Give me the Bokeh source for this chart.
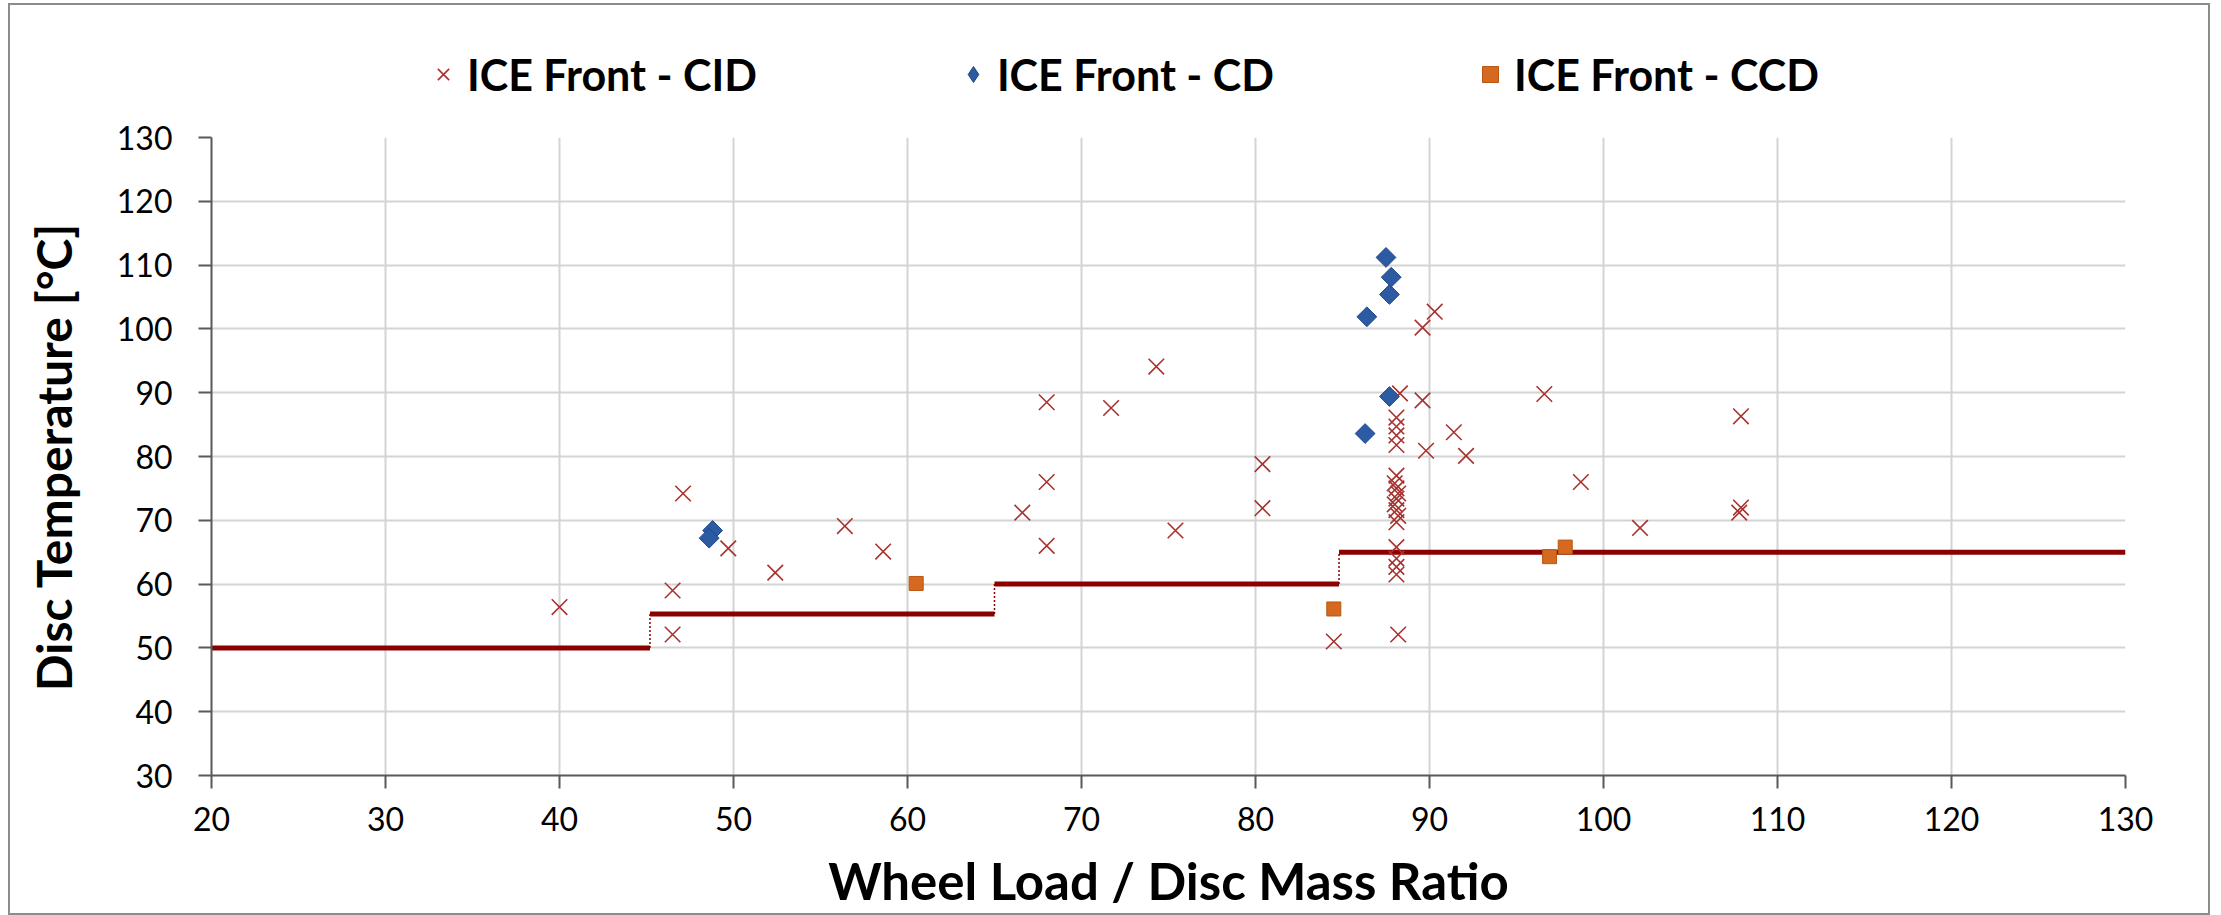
from bokeh.plotting import figure
from bokeh.models import Legend, LegendItem, FixedTicker, Range1d
from bokeh.layouts import column
from bokeh.embed import file_html
from bokeh.resources import INLINE
import numpy as np

# ---- data ----
cid_x = [40.0, 46.5, 46.5, 47.1, 49.7, 52.4, 56.4, 58.6, 66.6, 68.0, 68.0, 68.0,
         71.7, 74.3, 75.4, 80.4, 80.4, 84.5,
         88.3, 88.1, 88.1, 88.1, 88.1, 88.1, 88.0, 88.1, 88.2, 88.1, 88.0, 88.1,
         88.2, 88.1, 88.1, 88.1, 88.1, 88.1, 88.2,
         89.6, 90.3, 89.6, 91.4, 89.8, 92.1, 96.6, 98.7, 102.1, 107.9, 107.9, 107.8]
cid_y = [56.4, 52.1, 59.0, 74.2, 65.6, 61.8, 69.1, 65.1, 71.2, 88.5, 76.0, 66.0,
         87.6, 94.1, 68.4, 78.8, 71.9, 51.0,
         89.9, 86.1, 84.7, 83.3, 81.8, 77.0, 75.8, 75.0, 74.2, 73.4, 72.5, 71.6,
         70.7, 69.7, 65.8, 64.0, 62.7, 61.5, 52.1,
         100.2, 102.7, 88.8, 83.8, 80.9, 80.1, 89.8, 76.0, 68.8, 86.3, 72.0, 71.2]

cd_x = [48.8, 48.6, 86.3, 86.4, 87.7, 87.7, 87.8, 87.5]
cd_y = [68.4, 67.2, 83.6, 101.9, 89.4, 105.4, 108.1, 111.2]

ccd_x = [60.5, 84.5, 96.9, 97.8]
ccd_y = [60.1, 56.1, 64.3, 65.8]

step_x = [20.0, 45.2, 65.0, 84.8, 130.0]
step_y = [50.0, 55.3, 60.0, 65.0]

x_ticks = [20, 30, 40, 50, 60, 70, 80, 90, 100, 110, 120, 130]
y_ticks = [30, 40, 50, 60, 70, 80, 90, 100, 110, 120, 130]

labels = ["ICE Front - CID", "ICE Front - CD", "ICE Front - CCD"]

FONT = "Lato"
CID_STYLE = dict(marker="x", size=22, line_color="#a8322f", line_width=1.6)
CD_STYLE = dict(marker="square", size=14, angle=np.pi / 4,
                fill_color="#2d5ba3", line_color="#22478a", line_width=1)
CCD_STYLE = dict(marker="square", size=14,
                 fill_color="#d4691f", line_color="#b85712", line_width=1)

W = 2198

# ---- main plot ----
p = figure(width=W, height=808, output_backend="svg", toolbar_location=None,
           x_range=Range1d(20, 130), y_range=Range1d(30, 130),
           min_border_left=201, min_border_right=83, min_border_top=32,
           min_border_bottom=138)
p.outline_line_color = None
p.background_fill_color = "white"
p.border_fill_color = "white"

for g in (p.xgrid, p.ygrid):
    g.grid_line_color = "#d4d4d4"
    g.grid_line_width = 2
p.xgrid.ticker = FixedTicker(ticks=x_ticks)
p.ygrid.ticker = FixedTicker(ticks=y_ticks)

p.xaxis.ticker = FixedTicker(ticks=x_ticks)
p.yaxis.ticker = FixedTicker(ticks=y_ticks)
for ax in (p.xaxis[0], p.yaxis[0]):
    ax.axis_line_color = "#595959"
    ax.axis_line_width = 2
    ax.major_tick_line_color = "#595959"
    ax.major_tick_line_width = 2
    ax.major_tick_out = 13
    ax.major_tick_in = 0
    ax.minor_tick_line_color = None
    ax.major_label_text_font = FONT
    ax.major_label_text_font_size = "32px"
    ax.major_label_text_color = "black"
    ax.axis_label_text_font = FONT
    ax.axis_label_text_font_style = "bold"
    ax.axis_label_text_color = "black"
p.xaxis.axis_label = "Wheel Load / Disc Mass Ratio"
p.yaxis.axis_label = "Disc Temperature [°C]"
p.xaxis.axis_label_text_font_size = "51px"
p.yaxis.axis_label_text_font_size = "48px"
p.yaxis.major_label_standoff = 26
p.yaxis.axis_label_standoff = 32
p.xaxis.major_label_standoff = 18
p.xaxis.axis_label_standoff = 16

# step threshold line
p.segment(x0=step_x[:-1], x1=step_x[1:], y0=step_y, y1=step_y,
          line_color="#8b0000", line_width=5)
p.segment(x0=step_x[1:-1], x1=step_x[1:-1], y0=step_y[:-1], y1=step_y[1:],
          line_color="#8b0000", line_width=1.5, line_dash="2 2")

# series
p.scatter(cid_x, cid_y, **CID_STYLE)
p.scatter(cd_x, cd_y, **CD_STYLE)
p.scatter(ccd_x, ccd_y, **CCD_STYLE)

# ---- legend strip above the plot ----
lf = figure(width=W, height=100, output_backend="svg", toolbar_location=None,
            x_range=Range1d(0, 1), y_range=Range1d(0, 1),
            min_border_left=0, min_border_right=0, min_border_top=0, min_border_bottom=0)
lf.axis.visible = False
lf.grid.visible = False
lf.outline_line_color = None
l1 = lf.scatter([-5], [-5], marker="x", size=20, line_color="#a8322f", line_width=1.6)
l2 = lf.scatter([-5], [-5], marker="diamond", size=20,
                fill_color="#2d5ba3", line_color="#22478a", line_width=1)
l3 = lf.scatter([-5], [-5], **CCD_STYLE)
legend = Legend(items=[LegendItem(label=labels[0], renderers=[l1]),
                       LegendItem(label=labels[1], renderers=[l2]),
                       LegendItem(label=labels[2], renderers=[l3])],
                orientation="horizontal", location=(212, 5),
                label_text_font=FONT, label_text_font_style="bold",
                label_text_font_size="43px", label_text_color="black",
                glyph_width=40, glyph_height=52, label_standoff=4,
                spacing=196, padding=0, margin=0,
                border_line_color=None, background_fill_alpha=0)
lf.add_layout(legend, "center")

layout = column(lf, p, spacing=0,
                styles={"border": "2px solid #8c8c8c", "margin-left": "8px",
                        "margin-top": "3px"})

open("out.html", "w").write(file_html(layout, INLINE))
